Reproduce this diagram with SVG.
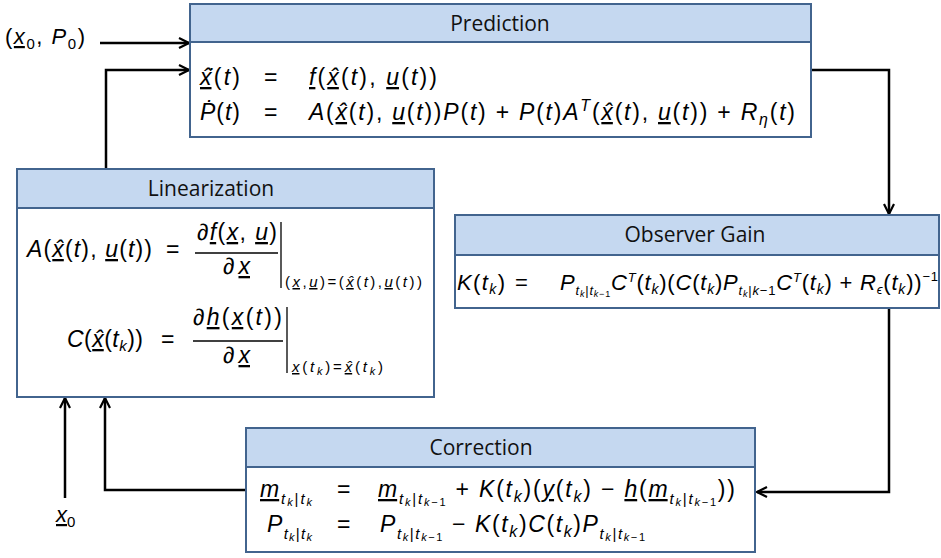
<svg xmlns="http://www.w3.org/2000/svg" width="941" height="558" viewBox="0 0 941 558">
<defs>
<marker id="ah" viewBox="0 0 12 12" refX="11" refY="6" markerWidth="12" markerHeight="12" markerUnits="userSpaceOnUse" orient="auto"><path d="M1,1 L11,6 L1,11" fill="none" stroke="#000" stroke-width="2.2"/></marker>
</defs>
<style>
.box{fill:#fff;stroke:#42648e;stroke-width:2}
.hdr{fill:#c5d8f0;stroke:#42648e;stroke-width:2}
.ttl{font-family:"Open Sans","Noto Sans",sans-serif;font-size:21px;fill:#111;text-anchor:middle}
.m{font-family:"Liberation Sans",Arial,sans-serif;fill:#000}
.i{font-style:italic}
.u{text-decoration:underline}
.ln{fill:none;stroke:#000;stroke-width:2.5}
.rule{stroke:#000;stroke-width:1.3}
</style>
<rect width="941" height="558" fill="#fff"/>
<g id="connectors">
<path class="ln" d="M100,43 H189" marker-end="url(#ah)"/>
<path class="ln" d="M106,169 V70 H189" marker-end="url(#ah)"/>
<path class="ln" d="M811,70 H889 V214" marker-end="url(#ah)"/>
<path class="ln" d="M889,309 V492 H757" marker-end="url(#ah)"/>
<path class="ln" d="M246,490 H105 V398" marker-end="url(#ah)"/>
<path class="ln" d="M65,498 V398" marker-end="url(#ah)"/>
<text class="m" font-size="22" x="5" y="44" textLength="80" lengthAdjust="spacing">(<tspan class="i u">x</tspan><tspan font-size="15" dy="5">0</tspan><tspan dy="-5">, </tspan><tspan class="i">P</tspan><tspan font-size="15" dy="5">0</tspan><tspan dy="-5">)</tspan></text>
<text class="m" font-size="22" x="56" y="522"><tspan class="i u">x</tspan><tspan font-size="15" dy="5">0</tspan></text>
</g>
<g id="prediction">
<rect class="box" x="190" y="4" width="621" height="133"/>
<rect class="hdr" x="190" y="4" width="621" height="38"/>
<text class="ttl" x="500" y="31">Prediction</text>
<text class="m" font-size="23" x="200" y="85" textLength="40" lengthAdjust="spacing"><tspan class="i u">x&#x302;&#x307;</tspan>(<tspan class="i">t</tspan>)</text>
<text class="m" font-size="23" x="264" y="85">=</text>
<text class="m" font-size="23" x="309" y="85" textLength="128" lengthAdjust="spacing"><tspan class="i u">f</tspan>(<tspan class="i u">x&#x302;</tspan>(<tspan class="i">t</tspan>), <tspan class="i u">u</tspan>(<tspan class="i">t</tspan>))</text>
<text class="m" font-size="23" x="200" y="120" textLength="40" lengthAdjust="spacing"><tspan class="i">P&#x307;</tspan>(<tspan class="i">t</tspan>)</text>
<text class="m" font-size="23" x="264" y="120">=</text>
<text class="m" font-size="23" x="309" y="120" textLength="486" lengthAdjust="spacing"><tspan class="i">A</tspan>(<tspan class="i u">x&#x302;</tspan>(<tspan class="i">t</tspan>), <tspan class="i u">u</tspan>(<tspan class="i">t</tspan>))<tspan class="i">P</tspan>(<tspan class="i">t</tspan>) + <tspan class="i">P</tspan>(<tspan class="i">t</tspan>)<tspan class="i">A</tspan><tspan font-size="16" dy="-9" class="i">T</tspan><tspan dy="9">(</tspan><tspan class="i u">x&#x302;</tspan>(<tspan class="i">t</tspan>), <tspan class="i u">u</tspan>(<tspan class="i">t</tspan>)) + <tspan class="i">R</tspan><tspan font-size="16" dy="5" class="i">η</tspan><tspan dy="-5">(</tspan><tspan class="i">t</tspan>)</text>
</g>
<g id="linearization">
<rect class="box" x="17" y="169" width="417" height="228"/>
<rect class="hdr" x="17" y="169" width="417" height="39"/>
<text class="ttl" x="211" y="196">Linearization</text>
<text class="m" font-size="23" x="27" y="257" textLength="125" lengthAdjust="spacing"><tspan class="i">A</tspan>(<tspan class="i u">x&#x302;</tspan>(<tspan class="i">t</tspan>), <tspan class="i u">u</tspan>(<tspan class="i">t</tspan>))</text>
<text class="m" font-size="23" x="166" y="257">=</text>
<text class="m" font-size="23" x="197" y="240" textLength="80" lengthAdjust="spacing">∂<tspan class="i u">f</tspan>(<tspan class="i u">x</tspan>, <tspan class="i u">u</tspan>)</text>
<line class="rule" x1="195" y1="253" x2="278" y2="253"/>
<text class="m" font-size="23" x="223" y="274" textLength="27" lengthAdjust="spacing">∂<tspan class="i u">x</tspan></text>
<line class="rule" x1="281" y1="222" x2="281" y2="288"/>
<text class="m" font-size="15" x="285" y="287" textLength="137" lengthAdjust="spacing">(<tspan class="i u">x</tspan>,<tspan class="i u">u</tspan>)=(<tspan class="i u">x&#x302;</tspan>(<tspan class="i">t</tspan>),<tspan class="i u">u</tspan>(<tspan class="i">t</tspan>))</text>
<text class="m" font-size="23" x="67" y="347" textLength="76" lengthAdjust="spacing"><tspan class="i">C</tspan>(<tspan class="i u">x&#x302;</tspan>(<tspan class="i">t</tspan><tspan font-size="15" dy="4" class="i">k</tspan><tspan dy="-4">))</tspan></text>
<text class="m" font-size="23" x="161" y="347">=</text>
<text class="m" font-size="23" x="193" y="325" textLength="89" lengthAdjust="spacing">∂<tspan class="i u">h</tspan>(<tspan class="i u">x</tspan>(<tspan class="i">t</tspan>))</text>
<line class="rule" x1="193" y1="341" x2="283" y2="341"/>
<text class="m" font-size="23" x="223" y="363" textLength="27" lengthAdjust="spacing">∂<tspan class="i u">x</tspan></text>
<line class="rule" x1="287" y1="307" x2="287" y2="373"/>
<text class="m" font-size="15" x="292" y="372" textLength="91" lengthAdjust="spacing"><tspan class="i u">x</tspan>(<tspan class="i">t</tspan><tspan font-size="11" dy="3" class="i">k</tspan><tspan dy="-3">)=</tspan><tspan class="i u">x&#x302;</tspan>(<tspan class="i">t</tspan><tspan font-size="11" dy="3" class="i">k</tspan><tspan dy="-3">)</tspan></text>
</g>
<g id="observer-gain">
<rect class="box" x="455" y="215" width="484" height="93"/>
<rect class="hdr" x="455" y="215" width="484" height="40"/>
<text class="ttl" x="695" y="242">Observer Gain</text>
<text class="m" font-size="22" x="457" y="290" textLength="48" lengthAdjust="spacing"><tspan class="i">K</tspan>(<tspan class="i">t</tspan><tspan font-size="14" dy="4" class="i">k</tspan><tspan dy="-4">)</tspan></text>
<text class="m" font-size="22" x="515" y="290">=</text>
<text class="m" font-size="22" x="560" y="290" textLength="378" lengthAdjust="spacing"><tspan class="i">P</tspan><tspan font-size="13" dy="5"><tspan class="i">t</tspan><tspan font-size="9" dy="2" class="i">k</tspan><tspan dy="-2">|</tspan><tspan class="i">t</tspan><tspan font-size="9" dy="2"><tspan class="i">k</tspan>−1</tspan></tspan><tspan class="i" dy="-7">C</tspan><tspan font-size="13" dy="-8" class="i">T</tspan><tspan dy="8">(</tspan><tspan class="i">t</tspan><tspan font-size="14" dy="4" class="i">k</tspan><tspan dy="-4">)(</tspan><tspan class="i">C</tspan>(<tspan class="i">t</tspan><tspan font-size="14" dy="4" class="i">k</tspan><tspan dy="-4">)</tspan><tspan class="i">P</tspan><tspan font-size="13" dy="5"><tspan class="i">t</tspan><tspan font-size="9" dy="2" class="i">k</tspan><tspan dy="-2">|</tspan><tspan class="i">k</tspan>−1</tspan><tspan class="i" dy="-5">C</tspan><tspan font-size="13" dy="-8" class="i">T</tspan><tspan dy="8">(</tspan><tspan class="i">t</tspan><tspan font-size="14" dy="4" class="i">k</tspan><tspan dy="-4">) + </tspan><tspan class="i">R</tspan><tspan font-size="13" dy="4" class="i">ϵ</tspan><tspan dy="-4">(</tspan><tspan class="i">t</tspan><tspan font-size="14" dy="4" class="i">k</tspan><tspan dy="-4">))</tspan><tspan font-size="13" dy="-9">−1</tspan></text>
</g>
<g id="correction">
<rect class="box" x="246" y="428" width="509" height="124"/>
<rect class="hdr" x="246" y="428" width="509" height="39"/>
<text class="ttl" x="481" y="455">Correction</text>
<text class="m" font-size="23" x="260" y="497" textLength="52" lengthAdjust="spacing"><tspan class="i u">m</tspan><tspan font-size="15" dy="7"><tspan class="i">t</tspan><tspan font-size="11" dy="2" class="i">k</tspan><tspan dy="-2">|</tspan><tspan class="i">t</tspan><tspan font-size="11" dy="2" class="i">k</tspan></tspan></text>
<text class="m" font-size="23" x="337" y="497">=</text>
<text class="m" font-size="23" x="378" y="497" textLength="357" lengthAdjust="spacing"><tspan class="i u">m</tspan><tspan font-size="15" dy="7"><tspan class="i">t</tspan><tspan font-size="11" dy="2" class="i">k</tspan><tspan dy="-2">|</tspan><tspan class="i">t</tspan><tspan font-size="11" dy="2"><tspan class="i">k</tspan>−1</tspan></tspan><tspan dy="-9"> + </tspan><tspan class="i">K</tspan>(<tspan class="i">t</tspan><tspan font-size="16" dy="5" class="i">k</tspan><tspan dy="-5">)(</tspan><tspan class="i u">y</tspan>(<tspan class="i">t</tspan><tspan font-size="16" dy="5" class="i">k</tspan><tspan dy="-5">) − </tspan><tspan class="i u">h</tspan>(<tspan class="i u">m</tspan><tspan font-size="15" dy="7"><tspan class="i">t</tspan><tspan font-size="11" dy="2" class="i">k</tspan><tspan dy="-2">|</tspan><tspan class="i">t</tspan><tspan font-size="11" dy="2"><tspan class="i">k</tspan>−1</tspan></tspan><tspan dy="-9">))</tspan></text>
<text class="m" font-size="23" x="267" y="532" textLength="45" lengthAdjust="spacing"><tspan class="i">P</tspan><tspan font-size="15" dy="7"><tspan class="i">t</tspan><tspan font-size="11" dy="2" class="i">k</tspan><tspan dy="-2">|</tspan><tspan class="i">t</tspan><tspan font-size="11" dy="2" class="i">k</tspan></tspan></text>
<text class="m" font-size="23" x="337" y="532">=</text>
<text class="m" font-size="23" x="380" y="532" textLength="265" lengthAdjust="spacing"><tspan class="i">P</tspan><tspan font-size="15" dy="7"><tspan class="i">t</tspan><tspan font-size="11" dy="2" class="i">k</tspan><tspan dy="-2">|</tspan><tspan class="i">t</tspan><tspan font-size="11" dy="2"><tspan class="i">k</tspan>−1</tspan></tspan><tspan dy="-9"> − </tspan><tspan class="i">K</tspan>(<tspan class="i">t</tspan><tspan font-size="16" dy="5" class="i">k</tspan><tspan dy="-5">)</tspan><tspan class="i">C</tspan>(<tspan class="i">t</tspan><tspan font-size="16" dy="5" class="i">k</tspan><tspan dy="-5">)</tspan><tspan class="i">P</tspan><tspan font-size="15" dy="7"><tspan class="i">t</tspan><tspan font-size="11" dy="2" class="i">k</tspan><tspan dy="-2">|</tspan><tspan class="i">t</tspan><tspan font-size="11" dy="2"><tspan class="i">k</tspan>−1</tspan></tspan></text>
</g>
</svg>
